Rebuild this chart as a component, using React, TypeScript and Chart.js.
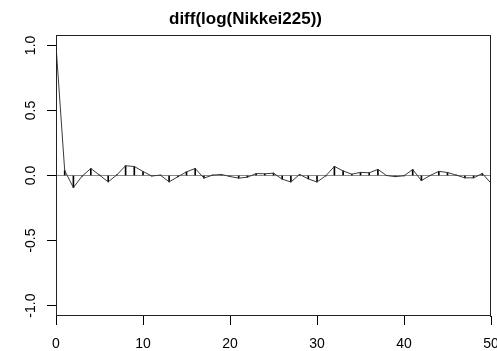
import React, { useEffect, useRef } from "react";
import { Chart, registerables } from "chart.js";

Chart.register(...registerables);

const TITLE = "diff(log(Nikkei225))";
const LAGS = [0, 1, 2, 3, 4, 5, 6, 7, 8, 9, 10, 11, 12, 13, 14, 15, 16, 17, 18, 19, 20, 21, 22, 23, 24, 25, 26, 27, 28, 29, 30, 31, 32, 33, 34, 35, 36, 37, 38, 39, 40, 41, 42, 43, 44, 45, 46, 47, 48, 49, 50];
const ACF = [1.0, 0.038, -0.093, -0.005, 0.054, 0.003, -0.049, 0.005, 0.075, 0.069, 0.031, -0.004, 0.003, -0.049, -0.01, 0.028, 0.054, -0.02, 0.003, 0.008, -0.008, -0.02, -0.013, 0.015, 0.013, 0.018, -0.028, -0.05, 0.008, -0.026, -0.05, -0.003, 0.07, 0.035, 0.01, 0.024, 0.021, 0.047, 0.0, -0.009, -0.002, 0.046, -0.039, 0.0, 0.032, 0.023, 0.003, -0.018, -0.018, 0.015, -0.059];
const X_TICKS = [0, 10, 20, 30, 40, 50];
const Y_TICKS = [-1, -0.5, 0, 0.5, 1];
const Y_TICK_LABELS = ["-1.0", "-0.5", "0.0", "0.5", "1.0"];

const FONT = '"Liberation Sans", Arial, sans-serif';

export default function App() {
  const ref = useRef<HTMLCanvasElement | null>(null);

  useEffect(() => {
    if (!ref.current) return;
    const points = LAGS.map((x, i) => ({ x, y: ACF[i] }));

    const frameAndLabels = {
      id: "frameAndLabels",
      afterDraw(chart: any) {
        const { ctx, chartArea } = chart;
        ctx.save();
        ctx.globalAlpha = 1;
        ctx.setLineDash([]);
        ctx.strokeStyle = "#000000";
        ctx.lineWidth = 1;
        const l = Math.round(chartArea.left);
        const t = Math.round(chartArea.top);
        const r = Math.round(chartArea.right);
        const b = Math.round(chartArea.bottom);
        ctx.fillStyle = "#222222";
        ctx.fillRect(l, t, r - l, 1);
        ctx.fillRect(l, t, 1, b - t);
        ctx.fillRect(r - 1, t, 1, b - t + 1);
        ctx.fillRect(l, b - 1, r - l, 1);
        const ys = chart.scales.y;
        ctx.font = "14px " + FONT;
        ctx.fillStyle = "#000";
        ctx.textAlign = "center";
        ctx.textBaseline = "middle";
        Y_TICKS.forEach((v, i) => {
          const py = ys.getPixelForValue(v);
          ctx.save();
          ctx.translate(31, py);
          ctx.rotate(-Math.PI / 2);
          ctx.fillText(Y_TICK_LABELS[i], 0, 0);
          ctx.restore();
        });
        ctx.restore();
      },
    };

    const chart = new Chart(ref.current, {
      type: "bar",
      data: {
        datasets: [
          {
            type: "line",
            data: [
              { x: X_TICKS[0], y: 0 },
              { x: X_TICKS[X_TICKS.length - 1], y: 0 },
            ],
            borderColor: "#8a8a8a",
            borderWidth: 1.2,
            pointRadius: 0,
            order: 3,
          } as any,
          {
            type: "bar",
            data: points,
            backgroundColor: "#000",
            borderWidth: 0,
            barThickness: 1,
            order: 2,
          } as any,
          {
            type: "line",
            data: points,
            borderColor: "#3a3a3a",
            borderWidth: 1,
            pointRadius: 0,
            tension: 0,
            order: 1,
          } as any,
        ],
      },
      options: {
        animation: false,
        responsive: false,
        devicePixelRatio: 1,
        layout: { padding: { left: 0, right: 6, top: 0, bottom: 0 } },
        plugins: {
          legend: { display: false },
          tooltip: { enabled: false },
          title: {
            display: true,
            text: TITLE,
            color: "#000",
            font: { family: FONT, size: 17, weight: "bold" },
            padding: { top: 9, bottom: 5.6 },
          },
        },
        scales: {
          x: {
            type: "linear",
            min: 0,
            max: 50,
            offset: false,
            afterBuildTicks(scale: any) {
              scale.ticks = X_TICKS.map((v) => ({ value: v }));
            },
            afterFit(scale: any) {
              scale.height = 35;
              scale.paddingLeft = 0;
              scale.paddingRight = 0;
            },
            grid: {
              offset: false,
              drawOnChartArea: false,
              drawTicks: true,
              tickLength: 9,
              tickColor: "#000",
              color: "#000",
            },
            border: { display: false },
            ticks: {
              color: "#000",
              font: { family: FONT, size: 14 },
              padding: 11,
              maxRotation: 0,
              autoSkip: false,
              callback: (v: any) => String(v),
            },
          },
          y: {
            type: "linear",
            min: -1.08,
            max: 1.08,
            afterBuildTicks(scale: any) {
              scale.ticks = Y_TICKS.map((v) => ({ value: v }));
            },
            afterFit(scale: any) {
              scale.width = 56;
              scale.paddingTop = 0;
              scale.paddingBottom = 0;
            },
            grid: {
              drawOnChartArea: false,
              drawTicks: true,
              tickLength: 9,
              tickColor: "#000",
              color: "#000",
            },
            border: { display: false },
            ticks: { display: false },
          },
        },
      } as any,
      plugins: [frameAndLabels],
    });

    return () => chart.destroy();
  }, []);

  return (
    <div style={{ position: "absolute", left: 0, top: 0, width: 497, height: 351, background: "#fff" }}>
      <canvas ref={ref} width={497} height={351} />
    </div>
  );
}
